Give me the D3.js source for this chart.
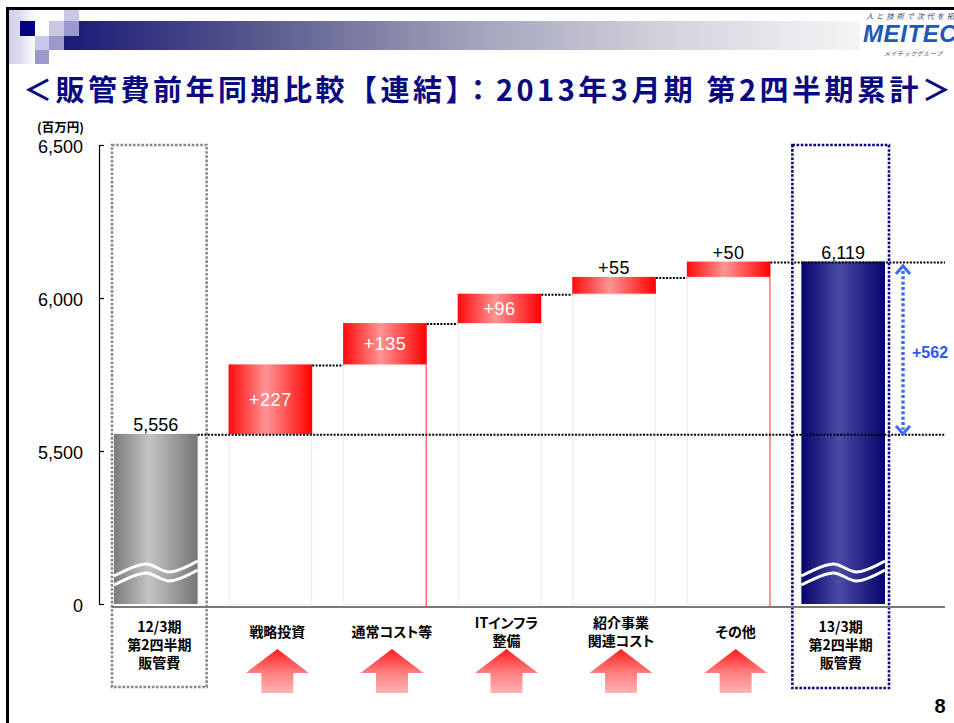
<!DOCTYPE html>
<html>
<head>
<meta charset="utf-8">
<script src="https://cdn.jsdelivr.net/npm/d3@7"></script>
<style>
  html, body { margin: 0; padding: 0; background: #fff; }
  svg { display: block; }
  .jp { font-family: "Noto Sans CJK JP", "Noto Sans", sans-serif; }
  .num { font-family: "Liberation Sans", Arial, sans-serif; }
</style>
</head>
<body>
<svg id="chart" width="954" height="723"></svg>
<script>
// ---- data ----
const categories = [
  "12/3期\n第2四半期\n販管費",
  "戦略投資",
  "通常コスト等",
  "ITインフラ\n整備",
  "紹介事業\n関連コスト",
  "その他",
  "13/3期\n第2四半期\n販管費"
];
const startTotal = 5556;                 // 12/3期 第2四半期 販管費
const increments = [227, 135, 96, 55, 50];
const endTotal = 6119;                   // 13/3期 第2四半期 販管費
const totalChange = 562;
const yTicks = [0, 5500, 6000, 6500];
const accentEdgeCats = ["通常コスト等", "その他"];
const titleText = "＜販管費前年同期比較【連結】：2013年3月期 第2四半期累計＞";
const unitText = "(百万円)";
const pageNumber = "8";

// ---- setup ----
const svg = d3.select("#chart");
const defs = svg.append("defs");

function hGrad(id, stops) {
  const g = defs.append("linearGradient").attr("id", id)
    .attr("x1", "0%").attr("x2", "100%").attr("y1", "0%").attr("y2", "0%");
  stops.forEach(([o, c]) => g.append("stop").attr("offset", o).attr("stop-color", c));
}
function vGrad(id, stops) {
  const g = defs.append("linearGradient").attr("id", id)
    .attr("x1", "0%").attr("x2", "0%").attr("y1", "0%").attr("y2", "100%");
  stops.forEach(([o, c]) => g.append("stop").attr("offset", o).attr("stop-color", c));
}
hGrad("gGray", [[0, "#7c7c7c"], [0.42, "#c4c4c4"], [1, "#767676"]]);
hGrad("gNavy", [[0, "#05056c"], [0.45, "#4a4aa6"], [1, "#05056c"]]);
hGrad("gRed", [[0, "#ff0a0a"], [0.45, "#ff9494"], [1, "#ff0000"]]);
vGrad("gArrow", [[0, "#ff1e1e"], [0.55, "#ff8080"], [1, "#ffb4b4"]]);
hGrad("gHeader", [[0, "#1a1a78"], [0.25, "#5a5a8e"], [0.5, "#a0a0ba"], [0.75, "#d2d2dc"], [1, "#f6f6f8"]]);
hGrad("gStrip", [[0, "#cfcfe9"], [0.4, "#dadaef"], [1, "#ffffff"]]);

// ---- slide frame & header ----
const head = svg.append("g");
head.append("rect").attr("x", 9).attr("y", 10).attr("width", 26).attr("height", 54).attr("fill", "url(#gStrip)");
head.append("rect").attr("x", 64).attr("y", 21).attr("width", 800).attr("height", 29).attr("fill", "url(#gHeader)");
[
  [20, 21, 15, 15, "#000080"],
  [64, 10, 15, 11, "#c8c8e6"],
  [49, 21, 15, 15, "#c8c8e6"],
  [64, 21, 15, 15, "#9999cc"],
  [35, 36, 14, 14, "#c8c8e6"],
  [49, 36, 15, 14, "#9999cc"],
  [35, 50, 14, 14, "#9999cc"]
].forEach(([x, yy, w, h, c]) =>
  head.append("rect").attr("x", x).attr("y", yy).attr("width", w).attr("height", h).attr("fill", c));

// logo block (runs off the slide edge)
head.append("rect").attr("x", 860).attr("y", 11).attr("width", 94).attr("height", 50).attr("fill", "#fff");
head.append("text").attr("class", "jp").attr("x", 866).attr("y", 19)
  .attr("font-size", 7.5).attr("letter-spacing", 2.6).attr("fill", "#2a3f7a").attr("font-style", "italic")
  .text("人と技術で次代を拓く");
head.append("text").attr("class", "num").attr("x", 863).attr("y", 42)
  .attr("font-size", 24).attr("font-weight", "bold").attr("font-style", "italic")
  .attr("letter-spacing", 0.6).attr("fill", "#1f58b8").text("MEITEC");
head.append("text").attr("class", "jp").attr("x", 884).attr("y", 56)
  .attr("font-size", 6).attr("letter-spacing", 0.6).attr("fill", "#444").attr("font-style", "italic")
  .text("メイテックグループ");

// frame lines
head.append("line").attr("x1", 6).attr("x2", 954).attr("y1", 8.5).attr("y2", 8.5).attr("stroke", "#000").attr("stroke-width", 3);
head.append("line").attr("x1", 7.5).attr("x2", 7.5).attr("y1", 7).attr("y2", 723).attr("stroke", "#000").attr("stroke-width", 3);

// title
svg.append("text").attr("class", "jp")
  .attr("x", 23).attr("y", 101)
  .attr("font-size", 29).attr("font-weight", "bold").attr("fill", "#0a0a80")
  .attr("textLength", 928).attr("lengthAdjust", "spacing")
  .text(titleText);

// ---- scales ----
const yZero = 604, yTop = 145;
// broken axis: 0 sits directly under 5,000
const y = d3.scaleLinear().domain([0, 5000, 6500]).range([yZero, yZero, yTop]);
const x = d3.scaleBand().domain(categories).range([114, 885]).paddingInner(0.27).paddingOuter(0);
const bw = x.bandwidth();
const xRight = 945;

// ---- y axis ----
const yAxis = d3.axisLeft(y).tickValues(yTicks).tickFormat(d3.format(","))
  .tickSizeInner(-5).tickSizeOuter(0).tickPadding(16);
const ax = svg.append("g").attr("transform", "translate(99,0)").call(yAxis);
ax.attr("font-family", null).attr("font-size", null);
ax.selectAll("text").attr("class", "num").attr("font-size", 18).attr("fill", "#000").attr("dy", "0.42em");
ax.selectAll("path,line").attr("stroke", "#000").attr("stroke-width", 1.2);

svg.append("text").attr("class", "jp").attr("x", 37).attr("y", 132)
  .attr("font-size", 12.5).attr("font-weight", "bold").attr("fill", "#000").text(unitText);

// ---- end boxes (dotted frames) ----
const firstCat = categories[0], lastCat = categories[categories.length - 1];
const boxTop = y(6500), boxBottom = 687;
svg.append("rect")
  .attr("x", x(firstCat) - 2).attr("y", boxTop).attr("width", bw + 11).attr("height", boxBottom - boxTop)
  .attr("fill", "none").attr("stroke", "#8a8a8a").attr("stroke-width", 2.6).attr("stroke-dasharray", "2.6 1.6");
svg.append("rect")
  .attr("x", x(lastCat) - 9).attr("y", boxTop).attr("width", bw + 13).attr("height", boxBottom + 1 - boxTop)
  .attr("fill", "none").attr("stroke", "#0a0a80").attr("stroke-width", 2.6).attr("stroke-dasharray", "2.6 1.6");

// ---- waterfall steps ----
let running = startTotal;
const steps = increments.map((v, i) => {
  const d = { cat: categories[i + 1], base: running, top: running + v, value: v };
  running += v;
  return d;
});

// transparent supports under each step
svg.append("g").selectAll("rect").data(steps).join("rect")
  .attr("x", d => x(d.cat) + 0.5).attr("y", d => y(d.base) + 0.5)
  .attr("width", bw - 1).attr("height", d => y(0) - y(d.base))
  .attr("fill", "none").attr("stroke", "#fde3ea").attr("stroke-width", 1);
svg.append("g").selectAll("line").data(steps.filter(d => accentEdgeCats.includes(d.cat))).join("line")
  .attr("x1", d => x(d.cat) + bw - 0.5).attr("x2", d => x(d.cat) + bw - 0.5)
  .attr("y1", d => y(d.base)).attr("y2", y(0) + 3)
  .attr("stroke", "#ff5252").attr("stroke-width", 1.2);

// step bars
svg.append("g").selectAll("rect").data(steps).join("rect")
  .attr("x", d => x(d.cat)).attr("y", d => y(d.top))
  .attr("width", bw).attr("height", d => y(d.base) - y(d.top))
  .attr("fill", "url(#gRed)");

// end bars
const ends = [{ cat: firstCat, value: startTotal, fill: "url(#gGray)" },
              { cat: lastCat, value: endTotal, fill: "url(#gNavy)" }];
svg.append("g").selectAll("rect").data(ends).join("rect")
  .attr("x", d => x(d.cat)).attr("y", d => y(d.value))
  .attr("width", bw).attr("height", d => y(0) - y(d.value))
  .attr("fill", d => d.fill);

// axis-break waves across the end bars
const wave = d3.line().curve(d3.curveCatmullRom.alpha(0.5));
const waveShape = [[0, 7], [0.38, -5], [0.66, 3], [1, -8]];
ends.forEach(d => {
  [0, 9].forEach(off => {
    svg.append("path")
      .attr("d", wave(waveShape.map(([t, dy]) => [x(d.cat) + t * bw, y(0) - 35 + off + dy])))
      .attr("fill", "none").attr("stroke", "#fff").attr("stroke-width", 3);
  });
});

// bottom rule
svg.append("line").attr("x1", x(firstCat) - 2).attr("x2", xRight)
  .attr("y1", y(0) + 3).attr("y2", y(0) + 3).attr("stroke", "#7a7a7a").attr("stroke-width", 2);

// dotted connectors
const dot = { stroke: "#000", w: 2, dash: "2 1.4" };
const connectors = steps.slice(0, -1).map((d, i) => ({
  x1: x(d.cat) + bw, x2: x(steps[i + 1].cat), v: d.top
}));
connectors.push({ x1: x(firstCat) + bw, x2: xRight, v: startTotal });
connectors.push({ x1: x(steps[steps.length - 1].cat) + bw, x2: xRight, v: endTotal });
svg.append("g").selectAll("line").data(connectors).join("line")
  .attr("x1", d => d.x1).attr("x2", d => d.x2)
  .attr("y1", d => y(d.v) + 1).attr("y2", d => y(d.v) + 1)
  .attr("stroke", dot.stroke).attr("stroke-width", dot.w).attr("stroke-dasharray", dot.dash);

// value labels
const fmt = d3.format(",");
svg.append("g").selectAll("text").data(ends).join("text")
  .attr("class", "num").attr("font-size", 18).attr("fill", "#000").attr("text-anchor", "middle")
  .attr("x", d => x(d.cat) + bw / 2).attr("y", d => y(d.value) - 3)
  .text(d => fmt(d.value));
svg.append("g").selectAll("text").data(steps).join("text")
  .attr("class", "num").attr("font-size", 18).attr("text-anchor", "middle")
  .attr("letter-spacing", 0.5)
  .each(function (d) {
    const h = y(d.base) - y(d.top);
    const inside = h >= 24;
    d3.select(this)
      .attr("x", x(d.cat) + bw / 2)
      .attr("y", inside ? (y(d.top) + y(d.base)) / 2 + 6.5 : y(d.top) - 3)
      .attr("fill", inside ? "#fff" : "#000")
      .text("+" + d.value);
  });

// total change marker
const mx = 903;
const yA = y(startTotal + totalChange) + 4, yB = y(startTotal);
const blue = "#3b6cf5";
svg.append("line").attr("x1", mx).attr("x2", mx).attr("y1", yA + 5).attr("y2", yB - 4)
  .attr("stroke", blue).attr("stroke-width", 3.4).attr("stroke-dasharray", "3 2.4");
svg.append("path").attr("d", `M${mx - 7},${yA + 8}L${mx},${yA}L${mx + 7},${yA + 8}`)
  .attr("fill", "none").attr("stroke", blue).attr("stroke-width", 3);
svg.append("path").attr("d", `M${mx - 7},${yB - 8}L${mx},${yB}L${mx + 7},${yB - 8}`)
  .attr("fill", "none").attr("stroke", blue).attr("stroke-width", 3);
svg.append("text").attr("class", "num").attr("x", 912).attr("y", (yA + yB) / 2 + 8)
  .attr("font-size", 16).attr("font-weight", "bold").attr("fill", "#3355f0")
  .text("+" + totalChange);

// category labels
const lineH = 18;
function labelX(c) {
  if (c === firstCat) return x(c) - 2 + (bw + 11) / 2;
  if (c === lastCat) return x(c) - 9 + (bw + 13) / 2;
  return x(c) + bw / 2 + 7;
}
categories.forEach(c => {
  const lines = c.split("\n");
  const n = lines.length;
  const firstCenter = n >= 3 ? 627 : 632 - (n - 1) * lineH / 2;
  const t = svg.append("text").attr("class", "jp")
    .attr("font-size", 14).attr("font-weight", "bold").attr("fill", "#000")
    .attr("text-anchor", "middle").style("font-feature-settings", "'palt'");
  lines.forEach((ln, i) => {
    t.append("tspan").attr("x", labelX(c)).attr("y", firstCenter + i * lineH + 5).text(ln);
  });
});

// up arrows under each increase
const arrowW = 63, shaftW = 32, tipY = 649, wingY = 673, baseY = 693;
svg.append("g").selectAll("path").data(steps).join("path")
  .attr("d", d => {
    const cx = labelX(d.cat);
    return `M${cx},${tipY}L${cx + arrowW / 2},${wingY}L${cx + shaftW / 2},${wingY}` +
           `L${cx + shaftW / 2},${baseY}L${cx - shaftW / 2},${baseY}L${cx - shaftW / 2},${wingY}` +
           `L${cx - arrowW / 2},${wingY}Z`;
  })
  .attr("fill", "url(#gArrow)");

// page number
svg.append("text").attr("class", "num").attr("x", 940).attr("y", 713)
  .attr("text-anchor", "middle").attr("font-size", 20).attr("font-weight", "bold").attr("fill", "#000")
  .text(pageNumber);
</script>
</body>
</html>
